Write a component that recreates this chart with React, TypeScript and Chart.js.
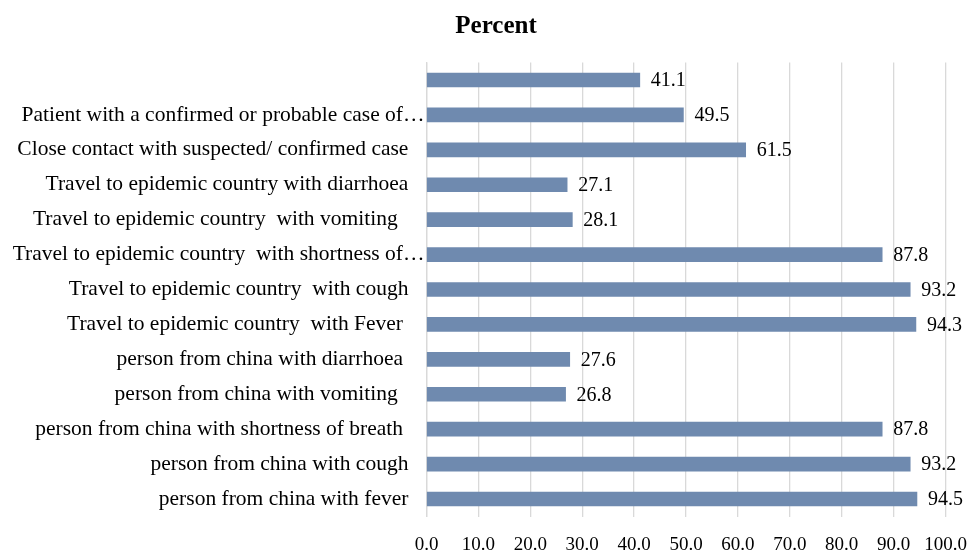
import React, { useEffect, useRef } from "react";
import { Chart, registerables } from "chart.js";

Chart.register(...registerables);

const chartTitle = "Percent";

const categories: string[] = [
  "",
  "Patient with a confirmed or probable case of…",
  "Close contact with suspected/ confirmed case   ",
  "Travel to epidemic country with diarrhoea   ",
  "Travel to epidemic country  with vomiting     ",
  "Travel to epidemic country  with shortness of…",
  "Travel to epidemic country  with cough   ",
  "Travel to epidemic country  with Fever    ",
  "person from china with diarrhoea    ",
  "person from china with vomiting     ",
  "person from china with shortness of breath    ",
  "person from china with cough   ",
  "person from china with fever   ",
];

const percentValues: number[] = [41.1, 49.5, 61.5, 27.1, 28.1, 87.8, 93.2, 94.3, 27.6, 26.8, 87.8, 93.2, 94.5];

const xTickMin = 0;
const xTickMax = 100;
const xTickStep = 10;

const FONT = "'Liberation Serif', 'Times New Roman', serif";

const valueLabelPlugin = {
  id: "valueLabels",
  afterDatasetsDraw(chart: any) {
    const ctx = chart.ctx;
    const meta = chart.getDatasetMeta(0);
    ctx.save();
    ctx.font = `20px ${FONT}`;
    ctx.fillStyle = "#000";
    ctx.textAlign = "left";
    ctx.textBaseline = "middle";
    meta.data.forEach((bar: any, i: number) => {
      const v = chart.data.datasets[0].data[i] as number;
      ctx.fillText(v.toFixed(1), bar.x + 11, bar.y + 1);
    });
    ctx.restore();
  },
};

const titlePlugin = {
  id: "offsetTitle",
  afterDraw(chart: any) {
    const ctx = chart.ctx;
    ctx.save();
    ctx.font = `bold 25px ${FONT}`;
    ctx.fillStyle = "#000";
    ctx.textAlign = "center";
    ctx.textBaseline = "middle";
    ctx.fillText(chartTitle, chart.width / 2 + 10, 27);
    ctx.restore();
  },
};

export default function App() {
  const canvasRef = useRef<HTMLCanvasElement | null>(null);

  useEffect(() => {
    if (!canvasRef.current) return;
    const chart = new Chart(canvasRef.current, {
      type: "bar",
      data: {
        labels: categories,
        datasets: [
          {
            label: chartTitle,
            data: percentValues,
            backgroundColor: "#6F8AAF",
            barThickness: 14,
          },
        ],
      },
      options: {
        indexAxis: "y",
        animation: false,
        responsive: true,
        maintainAspectRatio: false,
        layout: { padding: { left: 0, right: 26.5, top: 62.5, bottom: 0 } },
        plugins: {
          legend: { display: false },
          tooltip: { enabled: false },
          title: { display: false },
        },
        scales: {
          x: {
            min: xTickMin,
            max: xTickMax,
            ticks: {
              stepSize: xTickStep,
              color: "#000",
              font: { family: FONT, size: 19 },
              callback: (v: any) => Number(v).toFixed(1),
              padding: 17,
            },
            grid: { color: "#D9D9D9", lineWidth: 1.3, drawTicks: false },
            border: { display: false },
            afterFit: (s: any) => {
              s.height = 35.5;
              s.paddingLeft = 0;
              s.paddingRight = 0;
            },
          },
          y: {
            ticks: {
              color: "#000",
              font: { family: FONT, size: 21.5 },
              padding: 2,
              autoSkip: false,
            },
            grid: { display: false, drawTicks: false },
            border: { display: true, color: "#D9D9D9", width: 1.3 },
            afterFit: (s: any) => {
              s.width = 426.5;
              s.paddingTop = 0;
              s.paddingBottom = 0;
            },
          },
        },
      },
      plugins: [valueLabelPlugin, titlePlugin],
    });
    return () => chart.destroy();
  }, []);

  return (
    <div style={{ position: "fixed", left: 0, top: 0, width: 972, height: 552, background: "#fff" }}>
      <canvas ref={canvasRef} />
    </div>
  );
}
